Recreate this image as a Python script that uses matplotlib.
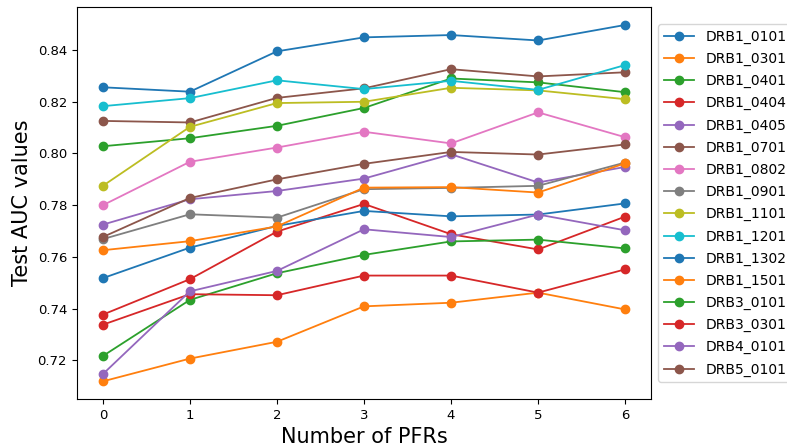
import matplotlib
matplotlib.use('Agg')
import matplotlib.pyplot as plt

n_pfrs = [0, 1, 2, 3, 4, 5, 6]

DRB1_0101 = [0.8256, 0.8239, 0.8395, 0.8449, 0.8458, 0.8437, 0.8497]
DRB1_0301 = [0.7119, 0.7207, 0.7272, 0.7409, 0.7423, 0.7462, 0.7397]
DRB1_0401 = [0.8028, 0.8059, 0.8107, 0.8176, 0.8290, 0.8275, 0.8237]
DRB1_0404 = [0.7377, 0.7514, 0.7698, 0.7805, 0.7688, 0.7629, 0.7756]
DRB1_0405 = [0.7725, 0.7823, 0.7855, 0.7903, 0.7997, 0.7888, 0.7948]
DRB1_0701 = [0.8126, 0.8120, 0.8215, 0.8252, 0.8326, 0.8298, 0.8314]
DRB1_0802 = [0.7800, 0.7968, 0.8023, 0.8084, 0.8039, 0.8159, 0.8063]
DRB1_0901 = [0.7669, 0.7765, 0.7752, 0.7862, 0.7867, 0.7875, 0.7965]
DRB1_1101 = [0.7875, 0.8103, 0.8195, 0.8200, 0.8254, 0.8244, 0.8210]
DRB1_1201 = [0.8183, 0.8214, 0.8283, 0.8249, 0.8281, 0.8246, 0.8342]
DRB1_1302 = [0.7518, 0.7636, 0.7720, 0.7778, 0.7757, 0.7764, 0.7807]
DRB1_1501 = [0.7626, 0.7661, 0.7718, 0.7868, 0.7870, 0.7849, 0.7962]
DRB3_0101 = [0.7217, 0.7434, 0.7537, 0.7608, 0.7660, 0.7667, 0.7633]
DRB3_0301 = [0.7338, 0.7456, 0.7452, 0.7528, 0.7528, 0.7462, 0.7552]
DRB4_0101 = [0.7147, 0.7467, 0.7546, 0.7707, 0.7677, 0.7764, 0.7703]
DRB5_0101 = [0.7677, 0.7828, 0.7900, 0.7960, 0.8006, 0.7996, 0.8035]

alleles = ['DRB1_0101', 'DRB1_0301', 'DRB1_0401', 'DRB1_0404', 'DRB1_0405',
           'DRB1_0701', 'DRB1_0802', 'DRB1_0901', 'DRB1_1101', 'DRB1_1201',
           'DRB1_1302', 'DRB1_1501', 'DRB3_0101', 'DRB3_0301', 'DRB4_0101',
           'DRB5_0101']
auc = [DRB1_0101, DRB1_0301, DRB1_0401, DRB1_0404, DRB1_0405, DRB1_0701,
       DRB1_0802, DRB1_0901, DRB1_1101, DRB1_1201, DRB1_1302, DRB1_1501,
       DRB3_0101, DRB3_0301, DRB4_0101, DRB5_0101]

fig = plt.figure(figsize=(7.87, 4.46), dpi=100)
ax = fig.add_axes([0.0975, 0.105, 0.73, 0.879])

for name, vals in zip(alleles, auc):
    ax.plot(n_pfrs, vals, marker='o', markersize=6, linewidth=1.3, label=name)

ax.set_xlabel('Number of PFRs', fontsize=15)
ax.set_ylabel('Test AUC values', fontsize=15)
ax.tick_params(labelsize=9.5)
ax.legend(loc='center left', bbox_to_anchor=(1, 0.5), fontsize=10,
          labelspacing=0.58, handlelength=2.2)

fig.savefig('out.png', dpi=100)
